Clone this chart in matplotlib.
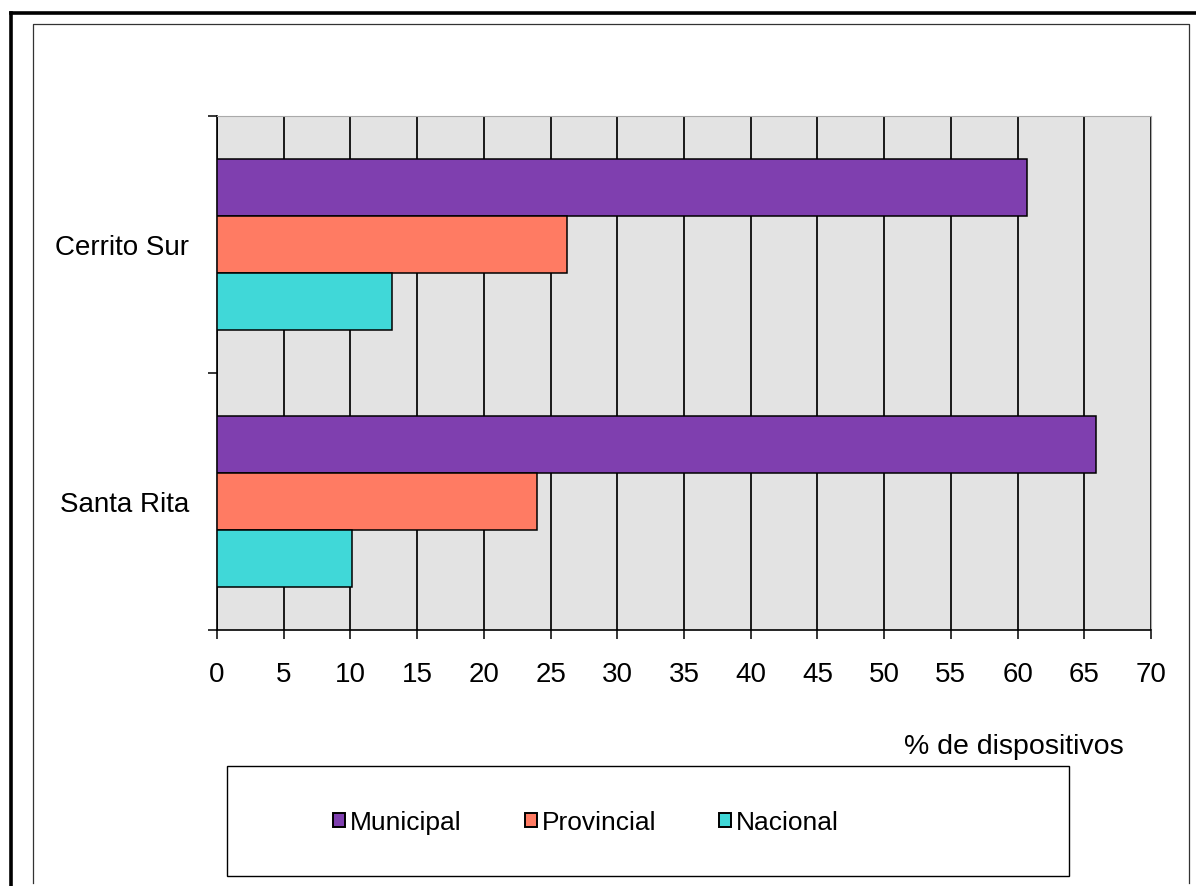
import numpy as np
import matplotlib.pyplot as plt
from matplotlib.patches import Rectangle, Patch
from matplotlib.lines import Line2D

# categories bottom to top (Santa Rita drawn lower)
places = ["Santa Rita", "Cerrito Sur"]
series = ["Municipal", "Provincial", "Nacional"]
municipal = [65.9, 60.7]
provincial = [24.0, 26.2]
nacional = [10.1, 13.1]
xticks = list(range(0, 75, 5))

colors = ["#7F3FAF", "#FF7B63", "#40D8D8"]
FONT = ["Liberation Sans", "DejaVu Sans"]
plt.rcParams["font.family"] = FONT

W, H = 1196, 887
fig = plt.figure(figsize=(W / 100, H / 100), dpi=100)

# outer frame (only left and top visible) and inner thin frame
fig.add_artist(Line2D([10.5 / W, 10.5 / W], [0, 1 - 14 / H], color="black", lw=2.6,
                      transform=fig.transFigure))
fig.add_artist(Line2D([10.5 / W, 1], [1 - 14 / H, 1 - 14 / H], color="black", lw=2.6,
                      transform=fig.transFigure))
fig.add_artist(Line2D([33 / W, 33 / W, 1189 / W, 1189 / W],
                      [1 - 884 / H, 1 - 25 / H, 1 - 25 / H, 1 - 884 / H],
                      color="#333333", lw=0.9, transform=fig.transFigure))

ax = fig.add_axes([217 / W, 1 - 631 / H, (1151 - 217) / W, (631 - 117) / H])
ax.set_facecolor("#E3E3E3")

y = np.arange(len(places))
h = 0.222
for vals, off, c in zip([municipal, provincial, nacional], [h, 0, -h], colors):
    ax.barh(y + off, vals, height=h, color=c, edgecolor="black", linewidth=1.1, zorder=3)

ax.set_xlim(0, 70)
ax.set_ylim(-0.5, 1.5)
ax.set_xticks(xticks)
ax.set_xticklabels([str(t) for t in xticks], fontsize=20)
ax.xaxis.grid(True, color="#1a1a1a", lw=1.4, zorder=1)
ax.set_axisbelow(True)
ax.tick_params(axis="x", direction="out", length=6.5, width=1.1, pad=16)

ax.set_yticks([-0.5, 0.5, 1.5])
ax.set_yticklabels([])
ax.set_yticks(y, minor=True)
ax.set_yticklabels(places, minor=True, fontsize=20)
ax.tick_params(axis="y", which="major", direction="out", length=6.5, width=1.1)
ax.tick_params(axis="y", which="minor", length=0, pad=20)

for s in ["top", "right"]:
    ax.spines[s].set_color("#aaaaaa")
    ax.spines[s].set_linewidth(0.8)
for s in ["left", "bottom"]:
    ax.spines[s].set_linewidth(1.2)

fig.text(1124 / W, 1 - 747 / H, "% de dispositivos", fontsize=20.5, ha="right", va="center")

# legend box
fig.add_artist(Rectangle((227 / W, 1 - 877 / H), (1069 - 227) / W, (877 - 767) / H,
                         transform=fig.transFigure, facecolor="white", edgecolor="black",
                         lw=1.0))
handles = [Patch(facecolor=c, edgecolor="black", linewidth=1.4) for c in colors]
fig.legend(handles, series, loc="center left", bbox_to_anchor=(320 / W, 1 - 823 / H),
           ncol=3, frameon=False, borderpad=0, handlelength=0.45, handleheight=0.45,
           handletextpad=0.19, columnspacing=2.39,
           prop={"family": "Liberation Sans", "size": 19})

fig.savefig("out.png", dpi=100)
